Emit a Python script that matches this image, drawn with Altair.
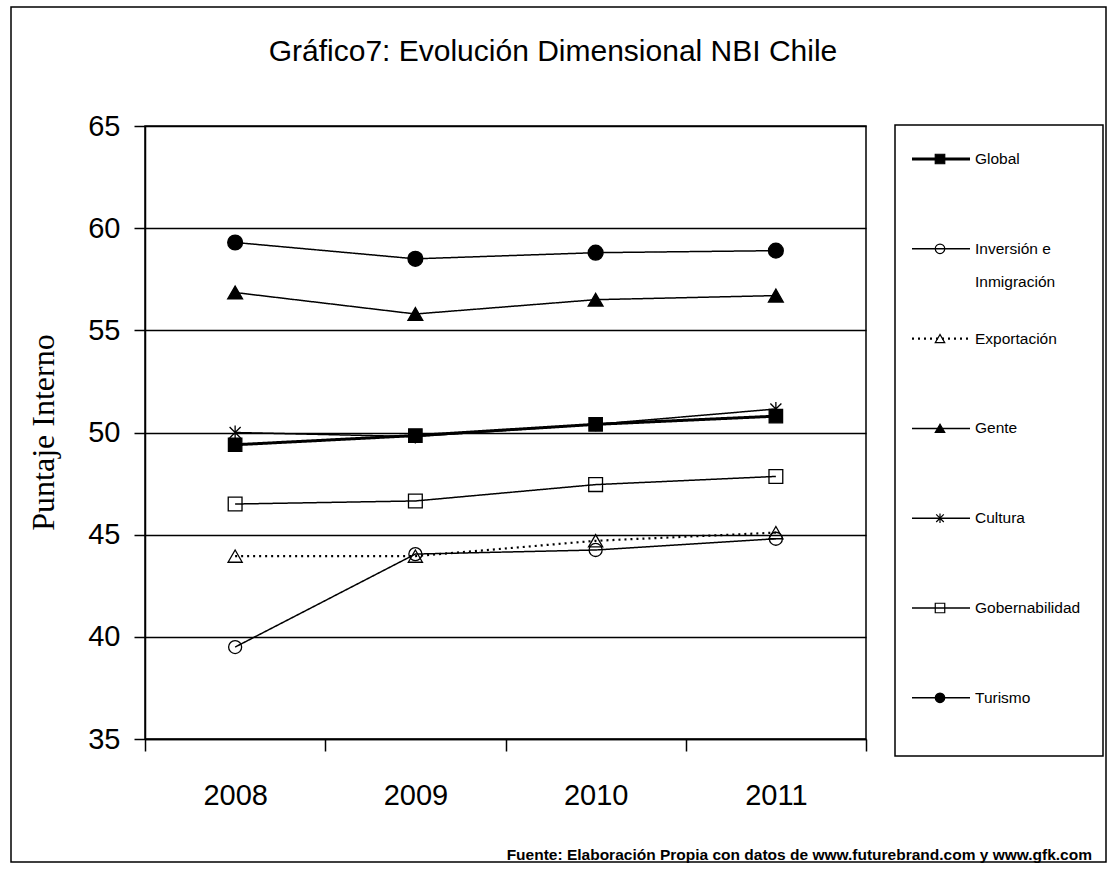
import altair as alt
import pandas as pd

# ---- data ----
years = ["2008", "2009", "2010", "2011"]
series_names = ["Global", "Inversión e Inmigración", "Exportación", "Gente",
                "Cultura", "Gobernabilidad", "Turismo"]
global_vals = [49.4, 49.85, 50.4, 50.8]
inversion_vals = [39.5, 44.05, 44.25, 44.8]
exportacion_vals = [43.95, 43.95, 44.7, 45.1]
gente_vals = [56.85, 55.8, 56.5, 56.7]
cultura_vals = [50.0, 49.8, 50.4, 51.15]
gobernabilidad_vals = [46.5, 46.65, 47.45, 47.85]
turismo_vals = [59.3, 58.5, 58.8, 58.9]
legend_lines = [["Global"], ["Inversión e", "Inmigración"], ["Exportación"], ["Gente"],
                ["Cultura"], ["Gobernabilidad"], ["Turismo"]]

title_text = "Gráfico7: Evolución Dimensional NBI Chile"
y_title = "Puntaje Interno"
footer_text = "Fuente: Elaboración Propia con datos de www.futurebrand.com y www.gfk.com"

all_vals = [global_vals, inversion_vals, exportacion_vals, gente_vals,
            cultura_vals, gobernabilidad_vals, turismo_vals]
rows = []
for name, vals in zip(series_names, all_vals):
    for yr, v in zip(years, vals):
        rows.append({"series": name, "year": yr, "value": v})
df = pd.DataFrame(rows)

# ---- styles ----
asterisk = "M-0.8,-0.8L0.8,0.8M-0.8,0.8L0.8,-0.8M0,-1L0,1"
shape_scale = alt.Scale(domain=series_names,
                        range=["square", "circle", "triangle-up", "triangle-up",
                               asterisk, "square", "circle"])
fill_scale = alt.Scale(domain=series_names,
                       range=["black", "transparent", "transparent", "black",
                              "transparent", "transparent", "black"])
size_scale = alt.Scale(type="ordinal", domain=series_names,
                       range=[180, 170, 200, 220, 190, 190, 220])
dash_scale = alt.Scale(domain=series_names,
                       range=[[1, 0], [1, 0], [2, 4], [1, 0], [1, 0], [1, 0], [1, 0]])
width_scale = alt.Scale(type="ordinal", domain=series_names,
                        range=[3, 1.5, 2.2, 1.5, 1.5, 1.5, 1.5])

W, H = 721, 613
LEFT, TOP = 145, 126

x_enc = alt.X("year:O", scale=alt.Scale(type="band", paddingInner=0, paddingOuter=0),
              axis=alt.Axis(title=None, grid=False, tickBand="extent", labelAngle=0,
                            labelFontSize=29, labelFont="Liberation Sans", labelColor="black",
                            labelPadding=30, tickSize=12, tickColor="black",
                            domainColor="black", domainWidth=1.5, tickWidth=1.5))
y_enc = alt.Y("value:Q", scale=alt.Scale(domain=[35, 65], nice=False, zero=False),
              axis=alt.Axis(title=y_title, values=[35, 40, 45, 50, 55, 60, 65],
                            grid=True, gridColor="black", gridWidth=1.5,
                            labelFontSize=29, labelFont="Liberation Sans", labelColor="black",
                            labelPadding=14, tickSize=11, tickColor="black", tickWidth=1.5,
                            domainColor="black", domainWidth=1.5,
                            titleFont="Liberation Serif", titleFontSize=32,
                            titleFontWeight="normal", titleColor="black",
                            titleAngle=-90, titleX=-102, titleY=306,
                            titleAlign="center", titleBaseline="middle"))

base = alt.Chart(df)
lines = base.mark_line(color="black").encode(
    x=x_enc, y=y_enc,
    detail="series:N",
    strokeDash=alt.StrokeDash("series:N", scale=dash_scale, legend=None),
    strokeWidth=alt.StrokeWidth("series:N", scale=width_scale, legend=None),
)
points = base.mark_point(stroke="black", strokeWidth=1.3, opacity=1, filled=False).encode(
    x=alt.X("year:O"), y=alt.Y("value:Q"),
    shape=alt.Shape("series:N", scale=shape_scale, legend=None),
    fill=alt.Fill("series:N", scale=fill_scale, legend=None),
    size=alt.Size("series:N", scale=size_scale, legend=None),
)

# ---- custom legend ----
leg_rows = []
text_rows = []
for i, (name, lines_txt) in enumerate(zip(series_names, legend_lines)):
    ly = 33 + i * 89.8
    leg_rows.append({"series": name, "ly": ly})
    for j, t in enumerate(lines_txt):
        text_rows.append({"label": t, "ly": ly + j * 33})
leg_df = pd.DataFrame(leg_rows)
txt_df = pd.DataFrame(text_rows)

leg_lines = alt.Chart(leg_df).mark_rule(color="black").encode(
    x=alt.value(767), x2=alt.value(825),
    y=alt.Y("ly:Q", scale=None, axis=None),
    strokeDash=alt.StrokeDash("series:N", scale=dash_scale, legend=None),
    strokeWidth=alt.StrokeWidth("series:N", scale=width_scale, legend=None),
)
leg_pts = alt.Chart(leg_df).mark_point(stroke="black", strokeWidth=1.2, opacity=1).encode(
    x=alt.value(795),
    y=alt.Y("ly:Q", scale=None, axis=None),
    shape=alt.Shape("series:N", scale=shape_scale, legend=None),
    fill=alt.Fill("series:N", scale=fill_scale, legend=None),
    size=alt.value(90),
)
leg_text = alt.Chart(txt_df).mark_text(align="left", baseline="middle", fontSize=15.5,
                                       font="Liberation Sans", color="black").encode(
    x=alt.value(830),
    y=alt.Y("ly:Q", scale=None, axis=None),
    text="label:N",
)
one = alt.Data(values=[{"k": 1}])
leg_box = alt.Chart(one).mark_rect(fill="transparent", stroke="black", strokeWidth=1.5).encode(
    x=alt.value(750), x2=alt.value(958), y=alt.value(-1), y2=alt.value(630))
outer_box = alt.Chart(one).mark_rect(fill="transparent", stroke="black", strokeWidth=1.5).encode(
    x=alt.value(-134), x2=alt.value(961), y=alt.value(-119), y2=alt.value(736))
title = alt.Chart(one).mark_text(align="center", baseline="alphabetic", fontSize=30,
                                 font="Liberation Sans", color="black").encode(
    x=alt.value(408), y=alt.value(-65), text=alt.value(title_text))
footer = alt.Chart(one).mark_text(align="right", baseline="middle", fontSize=15.5,
                                  fontWeight="bold", font="Liberation Sans",
                                  color="black").encode(
    x=alt.value(947), y=alt.value(729), text=alt.value(footer_text))

chart = alt.layer(outer_box, lines, points, leg_box, leg_lines, leg_pts, leg_text,
                  title, footer).properties(
    width=W, height=H,
    autosize=alt.AutoSizeParams(type="none"),
    padding={"left": LEFT, "top": TOP, "right": 1111 - LEFT - W, "bottom": 869 - TOP - H},
    background="white",
).configure_view(stroke="black", strokeWidth=1.5)

chart.save("out.html", embed_options={"renderer": "svg", "actions": False})
